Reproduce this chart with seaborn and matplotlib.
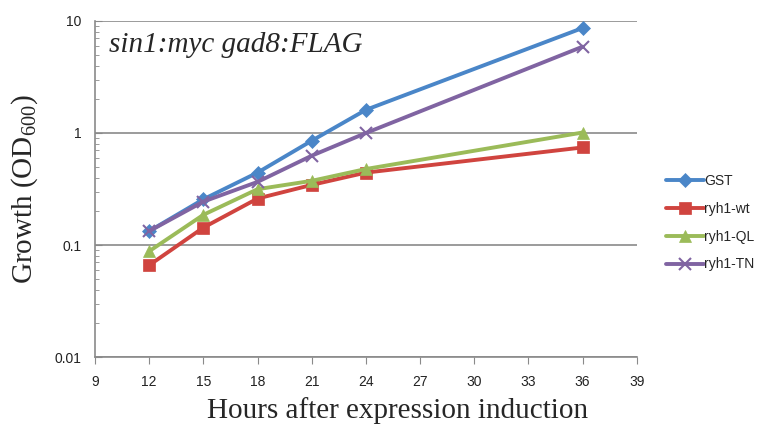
import matplotlib
matplotlib.use("Agg")
import matplotlib.pyplot as plt
import seaborn as sns
import pandas as pd
from matplotlib.ticker import LogLocator, FixedLocator, NullFormatter

hours = [12, 15, 18, 21, 24, 36]
gst = [0.133, 0.256, 0.443, 0.853, 1.61, 8.66]
ryh1_wt = [0.066, 0.143, 0.26, 0.344, 0.443, 0.743]
ryh1_ql = [0.088, 0.186, 0.315, 0.374, 0.477, 1.01]
ryh1_tn = [0.133, 0.244, 0.366, 0.627, 1.0, 5.9]

series = {
    "GST": gst,
    "ryh1-wt": ryh1_wt,
    "ryh1-QL": ryh1_ql,
    "ryh1-TN": ryh1_tn,
}
colors = {"GST": "#4A86C8", "ryh1-wt": "#D0443F", "ryh1-QL": "#9BBB59", "ryh1-TN": "#8064A2"}
markers = {"GST": "D", "ryh1-wt": "s", "ryh1-QL": "^", "ryh1-TN": "x"}
msizes = {"GST": 7, "ryh1-wt": 9, "ryh1-QL": 9, "ryh1-TN": 9}

sns.set_style("white")
plt.rcParams["font.family"] = ["Liberation Sans", "DejaVu Sans"]

fig = plt.figure(figsize=(7.62, 4.32), dpi=100)
ax = fig.add_axes([0.1247, 0.1736, 0.711, 0.7778])

for name, vals in series.items():
    df = pd.DataFrame({"hours": hours, "od": vals})
    sns.lineplot(data=df, x="hours", y="od", ax=ax, color=colors[name],
                 marker=markers[name], markersize=msizes[name], linewidth=2.8,
                 markeredgecolor=colors[name], markeredgewidth=1.5 if name == "ryh1-TN" else 0.5,
                 label=name)

ax.set_yscale("log")
ax.set_ylim(0.01, 10)
ax.set_xlim(9, 39)
ax.xaxis.set_major_locator(FixedLocator(range(9, 40, 3)))
ax.set_yticks([0.01, 0.1, 1, 10])
ax.set_yticklabels(["0.01", "0.1", "1", "10"])
ax.yaxis.set_minor_locator(LogLocator(base=10, subs=range(2, 10)))
ax.yaxis.set_minor_formatter(NullFormatter())

ax.grid(axis="y", which="major", color="#8a8a8a", linewidth=1.2)
for s in ["top", "right"]:
    ax.spines[s].set_visible(False)
for s in ["left", "bottom"]:
    ax.spines[s].set_color("#8a8a8a")
    ax.spines[s].set_linewidth(1.2)

ax.tick_params(axis="x", which="major", direction="out", length=5, color="#8a8a8a",
               labelsize=10, labelcolor="#222222", pad=8, bottom=True)
ax.tick_params(axis="y", which="major", direction="in", length=5, color="#8a8a8a",
               labelsize=10, labelcolor="#222222", pad=10, left=True)
ax.tick_params(axis="y", which="minor", direction="in", length=3, color="#8a8a8a", left=True)

serif = ["Liberation Serif", "DejaVu Serif"]
ax.set_xlabel("Hours after expression induction", fontsize=21, family=serif)
ax.xaxis.set_label_coords(0.559, -0.118)
ax.set_ylabel(r"Growth (OD$_\mathregular{600}$)", fontsize=21, family=serif, labelpad=10)
ax.text(0.025, 0.93, "sin1:myc gad8:FLAG", transform=ax.transAxes, fontsize=21,
        family=serif, style="italic", va="center", ha="left")

leg = ax.legend(loc="center left", bbox_to_anchor=(1.03, 0.40), frameon=False,
                fontsize=10, handlelength=2.8, labelspacing=1.0, handletextpad=0.0)

fig.savefig("out.png", dpi=100)
